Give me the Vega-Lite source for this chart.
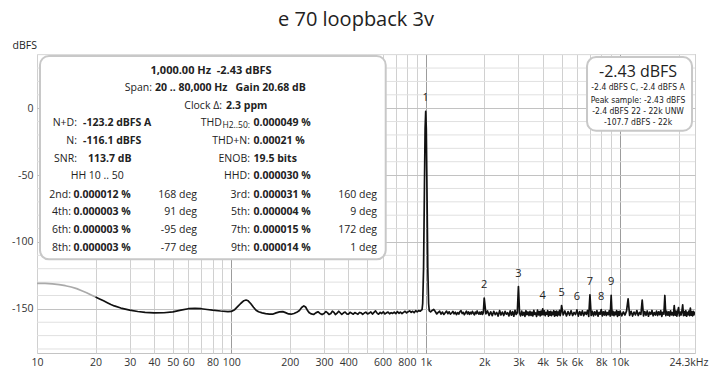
{
 "$schema": "https://vega.github.io/schema/vega-lite/v6.json",
 "width": 658, "height": 299,
 "autosize": {"type": "none"},
 "padding": {"left": 37, "top": 54, "right": 17, "bottom": 23},
 "background": "white",
 "title": {"text": "e 70 loopback 3v", "fontSize": 20, "font": "Open Sans", "fontWeight": "normal", "color": "#222222", "anchor": "middle", "frame": "group", "dx": -10, "offset": 10},
 "config": {"view": {"stroke": "#c4c4c4"}, "font": "Open Sans"},
 "datasets": {
  "ygrid": [{"g":-180},{"g":-170},{"g":-160},{"g":-140},{"g":-130},{"g":-120},{"g":-110},{"g":-90},{"g":-80},{"g":-70},{"g":-60},{"g":-40},{"g":-30},{"g":-20},{"g":-10},{"g":10},{"g":20},{"g":30},{"g":40}],
  "spec": [
   {"f":10,"db":-131,"s":"g"},{"f":11,"db":-131,"s":"g"},{"f":12,"db":-131.3,"s":"g"},{"f":13,"db":-131.9,"s":"g"},{"f":14,"db":-132.7,"s":"g"},{"f":15,"db":-133.7,"s":"g"},{"f":16,"db":-134.9,"s":"g"},{"f":17,"db":-136.5,"s":"g"},{"f":18,"db":-138,"s":"g"},{"f":19,"db":-139.6,"s":"g"},{"f":20,"db":-141.1,"s":"g"},
   {"f":20,"db":-141.1,"s":"b"},{"f":21,"db":-142.6,"s":"b"},{"f":22,"db":-144,"s":"b"},{"f":23,"db":-145.4,"s":"b"},{"f":24,"db":-146.7,"s":"b"},{"f":25,"db":-147.8,"s":"b"},{"f":27,"db":-149.4,"s":"b"},{"f":30,"db":-151,"s":"b"},{"f":33,"db":-152,"s":"b"},{"f":36,"db":-152.6,"s":"b"},{"f":40,"db":-153,"s":"b"},{"f":45,"db":-152.9,"s":"b"},{"f":50,"db":-152.2,"s":"b"},{"f":55,"db":-151,"s":"b"},{"f":60,"db":-149.9,"s":"b"},{"f":65,"db":-149.6,"s":"b"},{"f":70,"db":-149.9,"s":"b"},{"f":75,"db":-150.5,"s":"b"},{"f":80,"db":-151,"s":"b"},{"f":88,"db":-151.6,"s":"b"},{"f":96,"db":-152,"s":"b"},{"f":100,"db":-151.9,"s":"b"},{"f":104,"db":-150.6,"s":"b"},{"f":108,"db":-148.2,"s":"b"},{"f":112,"db":-145.8,"s":"b"},{"f":116,"db":-143.9,"s":"b"},{"f":119,"db":-143.4,"s":"b"},{"f":122,"db":-144,"s":"b"},{"f":126,"db":-146.2,"s":"b"},{"f":130,"db":-148.8,"s":"b"},{"f":134,"db":-151,"s":"b"},{"f":138,"db":-152.2,"s":"b"},{"f":144,"db":-153,"s":"b"},{"f":150,"db":-153.6,"s":"b"},{"f":157,"db":-154,"s":"b"},{"f":163,"db":-154,"s":"b"},{"f":170,"db":-153,"s":"b"},{"f":177,"db":-152.3,"s":"b"},{"f":184,"db":-152.1,"s":"b"},{"f":190,"db":-152.8,"s":"b"},{"f":197,"db":-153.8,"s":"b"},{"f":203,"db":-154,"s":"b"},{"f":210,"db":-153.5,"s":"b"},{"f":217,"db":-152.6,"s":"b"},{"f":224,"db":-151.2,"s":"b"},{"f":230,"db":-149,"s":"b"},{"f":236,"db":-147.8,"s":"b"},{"f":241,"db":-148.6,"s":"b"},{"f":246,"db":-151,"s":"b"},{"f":252,"db":-153,"s":"b"},{"f":258,"db":-153.8,"s":"b"},{"f":265,"db":-154.2,"s":"b"},{"f":272,"db":-153,"s":"b"},{"f":279,"db":-152.2,"s":"b"},{"f":286,"db":-153.4,"s":"b"},{"f":293,"db":-154.3,"s":"b"},{"f":300,"db":-153.5,"s":"b"},{"f":306,"db":-152,"s":"b"},{"f":312,"db":-152.8,"s":"b"},{"f":318,"db":-154.2,"s":"b"},{"f":325,"db":-153.5,"s":"b"},{"f":331,"db":-151.7,"s":"b"},{"f":337,"db":-152.6,"s":"b"},{"f":343,"db":-154.3,"s":"b"},{"f":350,"db":-153.2,"s":"b"},{"f":357,"db":-151.8,"s":"b"},{"f":363,"db":-152.9,"s":"b"},{"f":370,"db":-154.2,"s":"b"},{"f":378,"db":-153,"s":"b"},{"f":385,"db":-152.4,"s":"b"},{"f":392,"db":-153.7,"s":"b"},{"f":400,"db":-154,"s":"b"},{"f":408,"db":-152.6,"s":"b"},{"f":416,"db":-153.3,"s":"b"},{"f":424,"db":-154,"s":"b"},{"f":432,"db":-152.8,"s":"b"},{"f":440,"db":-153.4,"s":"b"},{"f":448,"db":-154.1,"s":"b"},{"f":456,"db":-152.7,"s":"b"},{"f":465,"db":-153,"s":"b"},{"f":474,"db":-154.2,"s":"b"},{"f":483,"db":-153.1,"s":"b"},{"f":492,"db":-152.5,"s":"b"},{"f":502,"db":-153.8,"s":"b"},{"f":512,"db":-153.2,"s":"b"},{"f":522,"db":-152.3,"s":"b"},{"f":532,"db":-153.9,"s":"b"},{"f":542,"db":-152.7,"s":"b"},{"f":552,"db":-151.5,"s":"b"},{"f":562,"db":-153.2,"s":"b"},{"f":572,"db":-154,"s":"b"},{"f":583,"db":-152.6,"s":"b"},{"f":594,"db":-153.5,"s":"b"},{"f":605,"db":-152.2,"s":"b"},{"f":616,"db":-153.8,"s":"b"},{"f":628,"db":-153,"s":"b"},{"f":640,"db":-152.4,"s":"b"},{"f":652,"db":-153.7,"s":"b"},{"f":664,"db":-152.9,"s":"b"},{"f":676,"db":-153.4,"s":"b"},{"f":689,"db":-152.5,"s":"b"},{"f":702,"db":-153.6,"s":"b"},{"f":715,"db":-152,"s":"b"},{"f":728,"db":-153.3,"s":"b"},{"f":741,"db":-152.4,"s":"b"},{"f":755,"db":-153.5,"s":"b"},{"f":769,"db":-152.6,"s":"b"},{"f":783,"db":-151.8,"s":"b"},{"f":797,"db":-153,"s":"b"},{"f":812,"db":-152.2,"s":"b"},{"f":827,"db":-151.5,"s":"b"},{"f":842,"db":-152.6,"s":"b"},{"f":857,"db":-151.8,"s":"b"},{"f":872,"db":-152.9,"s":"b"},{"f":888,"db":-151.4,"s":"b"},{"f":904,"db":-152.2,"s":"b"},{"f":920,"db":-151.3,"s":"b"},{"f":936,"db":-151.8,"s":"b"},{"f":950,"db":-151,"s":"b"},{"f":958,"db":-150.5,"s":"b"},{"f":965,"db":-146,"s":"b"},{"f":975,"db":-120,"s":"b"},{"f":985,"db":-60,"s":"b"},{"f":993,"db":-15,"s":"b"},{"f":1000,"db":-2.43,"s":"b"},{"f":1007,"db":-15,"s":"b"},{"f":1015,"db":-60,"s":"b"},{"f":1025,"db":-120,"s":"b"},{"f":1035,"db":-146,"s":"b"},{"f":1043,"db":-151.5,"s":"b"},
   {"f":1060,"db":-152.3,"s":"b"},{"f":1080,"db":-151.2,"s":"b"},{"f":1100,"db":-150.4,"s":"b"},{"f":1120,"db":-152,"s":"b"},{"f":1140,"db":-153.8,"s":"b"},{"f":1160,"db":-152.6,"s":"b"},{"f":1180,"db":-151.8,"s":"b"},{"f":1200,"db":-153.9,"s":"b"},{"f":1220,"db":-152.4,"s":"b"},{"f":1240,"db":-154.2,"s":"b"},{"f":1260,"db":-152.9,"s":"b"},{"f":1280,"db":-151.7,"s":"b"},{"f":1300,"db":-153.6,"s":"b"},{"f":1320,"db":-152.2,"s":"b"},{"f":1340,"db":-154,"s":"b"},{"f":1360,"db":-153.1,"s":"b"},{"f":1380,"db":-151.9,"s":"b"},{"f":1400,"db":-153.7,"s":"b"},{"f":1420,"db":-152.5,"s":"b"},{"f":1440,"db":-154.3,"s":"b"},{"f":1460,"db":-152.8,"s":"b"},{"f":1480,"db":-153.9,"s":"b"},{"f":1500,"db":-152.1,"s":"b"},{"f":1520,"db":-151.4,"s":"b"},{"f":1540,"db":-153.5,"s":"b"},{"f":1560,"db":-152.7,"s":"b"},{"f":1580,"db":-154.4,"s":"b"},{"f":1600,"db":-153,"s":"b"},{"f":1620,"db":-151.8,"s":"b"},{"f":1640,"db":-153.8,"s":"b"},{"f":1660,"db":-152.3,"s":"b"},{"f":1680,"db":-154.1,"s":"b"},{"f":1700,"db":-152.6,"s":"b"},{"f":1720,"db":-153.7,"s":"b"},{"f":1740,"db":-151.9,"s":"b"},{"f":1760,"db":-153.3,"s":"b"},{"f":1780,"db":-154.5,"s":"b"},{"f":1800,"db":-152.4,"s":"b"},{"f":1820,"db":-153.6,"s":"b"},{"f":1840,"db":-151.6,"s":"b"},{"f":1860,"db":-153.2,"s":"b"},{"f":1880,"db":-154,"s":"b"},{"f":1900,"db":-152.5,"s":"b"},{"f":1920,"db":-153.9,"s":"b"},{"f":1940,"db":-152.2,"s":"b"},{"f":1960,"db":-154.2,"s":"b"},{"f":1980,"db":-152.8,"s":"b"},
   {"f":2000,"db":-142,"s":"b"},{"f":2040,"db":-153.8,"s":"b"},{"f":2080,"db":-151.6,"s":"b"},{"f":2120,"db":-154.9,"s":"b"},{"f":2160,"db":-152.2,"s":"b"},{"f":2200,"db":-155.1,"s":"b"},{"f":2240,"db":-151.8,"s":"b"},{"f":2280,"db":-154.3,"s":"b"},{"f":2320,"db":-152.7,"s":"b"},{"f":2360,"db":-155.4,"s":"b"},{"f":2400,"db":-151.3,"s":"b"},{"f":2440,"db":-154.6,"s":"b"},{"f":2480,"db":-152.4,"s":"b"},{"f":2520,"db":-155,"s":"b"},{"f":2560,"db":-151.9,"s":"b"},{"f":2600,"db":-154,"s":"b"},{"f":2640,"db":-152.9,"s":"b"},{"f":2680,"db":-155.3,"s":"b"},{"f":2720,"db":-151.5,"s":"b"},{"f":2760,"db":-154.7,"s":"b"},{"f":2800,"db":-152.1,"s":"b"},{"f":2840,"db":-155.5,"s":"b"},{"f":2880,"db":-151.1,"s":"b"},{"f":2920,"db":-154.2,"s":"b"},{"f":2960,"db":-153,"s":"b"},{"f":3000,"db":-133.3,"s":"b"},{"f":3040,"db":-153.2,"s":"b"},{"f":3080,"db":-155.2,"s":"b"},{"f":3120,"db":-151.7,"s":"b"},{"f":3160,"db":-154.8,"s":"b"},{"f":3200,"db":-152.6,"s":"b"},{"f":3240,"db":-155.6,"s":"b"},{"f":3280,"db":-151.4,"s":"b"},{"f":3320,"db":-154.4,"s":"b"},{"f":3360,"db":-152.3,"s":"b"},{"f":3400,"db":-155,"s":"b"},{"f":3440,"db":-151.9,"s":"b"},{"f":3480,"db":-154.9,"s":"b"},{"f":3520,"db":-152.5,"s":"b"},{"f":3560,"db":-155.3,"s":"b"},{"f":3600,"db":-151.2,"s":"b"},{"f":3640,"db":-154.1,"s":"b"},{"f":3680,"db":-153.1,"s":"b"},{"f":3720,"db":-155.7,"s":"b"},{"f":3760,"db":-150.9,"s":"b"},{"f":3800,"db":-154.5,"s":"b"},{"f":3840,"db":-152,"s":"b"},{"f":3880,"db":-155.2,"s":"b"},{"f":3920,"db":-151.6,"s":"b"},{"f":3960,"db":-154.6,"s":"b"},{"f":4000,"db":-150,"s":"b"},{"f":4040,"db":-154.3,"s":"b"},{"f":4080,"db":-151.5,"s":"b"},{"f":4120,"db":-155.1,"s":"b"},{"f":4160,"db":-152.8,"s":"b"},{"f":4200,"db":-154,"s":"b"},{"f":4240,"db":-151.3,"s":"b"},{"f":4280,"db":-155.4,"s":"b"},{"f":4320,"db":-152.2,"s":"b"},{"f":4360,"db":-154.7,"s":"b"},{"f":4400,"db":-151.8,"s":"b"},{"f":4440,"db":-155,"s":"b"},{"f":4480,"db":-152.6,"s":"b"},{"f":4520,"db":-154.2,"s":"b"},{"f":4560,"db":-151.4,"s":"b"},{"f":4600,"db":-155.5,"s":"b"},{"f":4640,"db":-152,"s":"b"},{"f":4680,"db":-154.8,"s":"b"},{"f":4720,"db":-151.7,"s":"b"},{"f":4760,"db":-155.2,"s":"b"},{"f":4800,"db":-152.4,"s":"b"},{"f":4840,"db":-154.4,"s":"b"},{"f":4880,"db":-151.2,"s":"b"},{"f":4920,"db":-155,"s":"b"},{"f":4960,"db":-152.9,"s":"b"},
   {"f":5000,"db":-147.5,"s":"b"},{"f":5100,"db":-154.6,"s":"b"},{"f":5200,"db":-151.6,"s":"b"},{"f":5300,"db":-155.3,"s":"b"},{"f":5400,"db":-152.1,"s":"b"},{"f":5500,"db":-154.8,"s":"b"},{"f":5600,"db":-151.4,"s":"b"},{"f":5700,"db":-155,"s":"b"},{"f":5800,"db":-152.7,"s":"b"},{"f":5900,"db":-154.3,"s":"b"},{"f":6000,"db":-150.8,"s":"b"},{"f":6100,"db":-155.4,"s":"b"},{"f":6200,"db":-152,"s":"b"},{"f":6300,"db":-154.7,"s":"b"},{"f":6400,"db":-151.5,"s":"b"},{"f":6500,"db":-155.1,"s":"b"},{"f":6600,"db":-152.4,"s":"b"},{"f":6700,"db":-154.2,"s":"b"},{"f":6800,"db":-151.2,"s":"b"},{"f":6900,"db":-155.6,"s":"b"},{"f":7000,"db":-139.5,"s":"b"},{"f":7100,"db":-154.9,"s":"b"},{"f":7200,"db":-151.8,"s":"b"},{"f":7300,"db":-155.2,"s":"b"},{"f":7400,"db":-152.3,"s":"b"},{"f":7500,"db":-154.5,"s":"b"},{"f":7600,"db":-151.3,"s":"b"},{"f":7700,"db":-155.5,"s":"b"},{"f":7800,"db":-152.6,"s":"b"},{"f":7900,"db":-154,"s":"b"},{"f":8000,"db":-150.5,"s":"b"},{"f":8100,"db":-155.3,"s":"b"},{"f":8200,"db":-152.2,"s":"b"},{"f":8300,"db":-154.6,"s":"b"},{"f":8400,"db":-151.6,"s":"b"},{"f":8500,"db":-155,"s":"b"},{"f":8600,"db":-152.8,"s":"b"},{"f":8700,"db":-154.4,"s":"b"},{"f":8800,"db":-151.4,"s":"b"},{"f":8900,"db":-155.4,"s":"b"},{"f":9000,"db":-140,"s":"b"},{"f":9100,"db":-154.7,"s":"b"},{"f":9200,"db":-151.9,"s":"b"},{"f":9300,"db":-155.1,"s":"b"},{"f":9400,"db":-152.5,"s":"b"},{"f":9500,"db":-154.3,"s":"b"},{"f":9600,"db":-151.3,"s":"b"},{"f":9700,"db":-155.6,"s":"b"},{"f":9800,"db":-152,"s":"b"},{"f":9900,"db":-154.8,"s":"b"},
   {"f":10000,"db":-151.7,"s":"b"},{"f":10200,"db":-155.2,"s":"b"},{"f":10400,"db":-152.3,"s":"b"},{"f":10600,"db":-154.6,"s":"b"},{"f":10800,"db":-151.5,"s":"b"},{"f":11000,"db":-142.5,"s":"b"},{"f":11200,"db":-154.9,"s":"b"},{"f":11400,"db":-151.8,"s":"b"},{"f":11600,"db":-155.4,"s":"b"},{"f":11800,"db":-152.4,"s":"b"},{"f":12000,"db":-154.5,"s":"b"},{"f":12200,"db":-151.3,"s":"b"},{"f":12400,"db":-155,"s":"b"},{"f":12600,"db":-152.7,"s":"b"},{"f":12800,"db":-154.2,"s":"b"},{"f":13000,"db":-143.5,"s":"b"},{"f":13200,"db":-155.3,"s":"b"},{"f":13400,"db":-152,"s":"b"},{"f":13600,"db":-154.8,"s":"b"},{"f":13800,"db":-151.6,"s":"b"},{"f":14000,"db":-155.5,"s":"b"},{"f":14200,"db":-152.5,"s":"b"},{"f":14400,"db":-154.1,"s":"b"},{"f":14600,"db":-151.2,"s":"b"},{"f":14800,"db":-155.2,"s":"b"},{"f":15000,"db":-152.8,"s":"b"},{"f":15200,"db":-154.6,"s":"b"},{"f":15400,"db":-151.7,"s":"b"},{"f":15600,"db":-155,"s":"b"},{"f":15800,"db":-152.2,"s":"b"},{"f":16000,"db":-154.4,"s":"b"},{"f":16200,"db":-151.4,"s":"b"},{"f":16400,"db":-155.6,"s":"b"},{"f":16600,"db":-152.6,"s":"b"},{"f":16800,"db":-154,"s":"b"},{"f":17000,"db":-140,"s":"b"},{"f":17200,"db":-155.1,"s":"b"},{"f":17400,"db":-151.9,"s":"b"},{"f":17600,"db":-154.7,"s":"b"},{"f":17800,"db":-152.3,"s":"b"},{"f":18000,"db":-155.3,"s":"b"},{"f":18200,"db":-151.5,"s":"b"},{"f":18400,"db":-154.5,"s":"b"},{"f":18600,"db":-152.9,"s":"b"},{"f":18800,"db":-155,"s":"b"},{"f":19000,"db":-147.5,"s":"b"},{"f":19200,"db":-154.8,"s":"b"},{"f":19400,"db":-151.6,"s":"b"},{"f":19600,"db":-155.4,"s":"b"},{"f":19800,"db":-152.1,"s":"b"},{"f":20000,"db":-149,"s":"b"},{"f":20200,"db":-155.2,"s":"b"},{"f":20400,"db":-152.4,"s":"b"},{"f":20600,"db":-154.6,"s":"b"},{"f":20800,"db":-151.8,"s":"b"},{"f":21000,"db":-147,"s":"b"},{"f":21200,"db":-155.1,"s":"b"},{"f":21400,"db":-152,"s":"b"},{"f":21600,"db":-154.9,"s":"b"},{"f":21800,"db":-151.4,"s":"b"},{"f":22000,"db":-155.5,"s":"b"},{"f":22200,"db":-152.7,"s":"b"},{"f":22400,"db":-154.3,"s":"b"},{"f":22600,"db":-151.6,"s":"b"},{"f":22800,"db":-155,"s":"b"},{"f":23000,"db":-149.5,"s":"b"},{"f":23200,"db":-154.7,"s":"b"},{"f":23400,"db":-152.2,"s":"b"},{"f":23600,"db":-155.3,"s":"b"},{"f":23800,"db":-151.9,"s":"b"},{"f":24000,"db":-154.5,"s":"b"},{"f":24200,"db":-152.6,"s":"b"},{"f":24300,"db":-153.8,"s":"b"}
  ],
  "harm": [
   {"n":"1","f":1000,"db":-2.43},{"n":"2","f":2000,"db":-142},{"n":"3","f":3000,"db":-133.3},{"n":"4","f":4000,"db":-150},{"n":"5","f":5000,"db":-147.5},{"n":"6","f":6000,"db":-150.8},{"n":"7","f":7000,"db":-139.5},{"n":"8","f":8000,"db":-150.5},{"n":"9","f":9000,"db":-140}
  ],
  "box": [
   {"role":"head","t":"1,000.00 Hz\u00a0\u00a0-2.43 dBFS","f":78.6,"db":28.0},
   {"role":"lab","t":"Span:","f":39.05,"db":15.35},
   {"role":"val","t":"20 .. 80,000 Hz\u00a0\u00a0 Gain 20.68 dB","f":40.48,"db":15.35},
   {"role":"lab","t":"Clock Δ:","f":89.5,"db":1.94},
   {"role":"val","t":"2.3 ppm","f":93.9,"db":1.94},
   {"role":"lab","t":"N+D:","f":16.06,"db":-11.18},
   {"role":"val","t":"-123.2 dBFS A","f":17.25,"db":-11.18},
   {"role":"lab","t":"THD","f":89.5,"db":-11.18},
   {"role":"sub","t":"H2..50:","f":124.7,"db":-11.18},
   {"role":"val","t":"0.000049 %","f":130.0,"db":-11.18},
   {"role":"lab","t":"N:","f":16.06,"db":-24.37},
   {"role":"val","t":"-116.1 dBFS","f":17.25,"db":-24.37},
   {"role":"lab","t":"THD+N:","f":124.7,"db":-24.37},
   {"role":"val","t":"0.00021 %","f":130.0,"db":-24.37},
   {"role":"lab","t":"SNR:","f":16.06,"db":-37.78},
   {"role":"val","t":"113.7 dB","f":18.3,"db":-37.78},
   {"role":"lab","t":"ENOB:","f":124.7,"db":-37.78},
   {"role":"val","t":"19.5 bits","f":130.0,"db":-37.78},
   {"role":"note","t":"HH 10 .. 50","f":14.9,"db":-50.97},
   {"role":"lab","t":"HHD:","f":124.7,"db":-50.97},
   {"role":"val","t":"0.000030 %","f":130.0,"db":-50.97},
   {"role":"lab","t":"2nd:","f":14.96,"db":-64.6},
   {"role":"val","t":"0.000012 %","f":15.41,"db":-64.6},
   {"role":"lab","t":"168 deg","f":66.57,"db":-64.6},
   {"role":"lab","t":"3rd:","f":124.7,"db":-64.6},
   {"role":"val","t":"0.000031 %","f":130.0,"db":-64.6},
   {"role":"lab","t":"160 deg","f":561.6,"db":-64.6},
   {"role":"lab","t":"4th:","f":14.96,"db":-77.8},
   {"role":"val","t":"0.000003 %","f":15.41,"db":-77.8},
   {"role":"lab","t":"91 deg","f":66.57,"db":-77.8},
   {"role":"lab","t":"5th:","f":124.7,"db":-77.8},
   {"role":"val","t":"0.000004 %","f":130.0,"db":-77.8},
   {"role":"lab","t":"9 deg","f":561.6,"db":-77.8},
   {"role":"lab","t":"6th:","f":14.96,"db":-91.2},
   {"role":"val","t":"0.000003 %","f":15.41,"db":-91.2},
   {"role":"lab","t":"-95 deg","f":66.57,"db":-91.2},
   {"role":"lab","t":"7th:","f":124.7,"db":-91.2},
   {"role":"val","t":"0.000015 %","f":130.0,"db":-91.2},
   {"role":"lab","t":"172 deg","f":561.6,"db":-91.2},
   {"role":"lab","t":"8th:","f":14.96,"db":-104.3},
   {"role":"val","t":"0.000003 %","f":15.41,"db":-104.3},
   {"role":"lab","t":"-77 deg","f":66.57,"db":-104.3},
   {"role":"lab","t":"9th:","f":124.7,"db":-104.3},
   {"role":"val","t":"0.000014 %","f":130.0,"db":-104.3},
   {"role":"lab","t":"1 deg","f":561.6,"db":-104.3},
   {"role":"big","t":"-2.43 dBFS","f":12374,"db":27.05},
   {"role":"small","t":"-2.4 dBFS C, -2.4 dBFS A","f":12374,"db":15.87},
   {"role":"small","t":"Peak sample: -2.43 dBFS","f":12374,"db":6.18},
   {"role":"small","t":"-2.4 dBFS 22 - 22k UNW","f":12374,"db":-2.38},
   {"role":"small","t":"-107.7 dBFS - 22k","f":12374,"db":-10.58}
  ]
 },
 "layer": [
  {
   "data": {"name": "ygrid"},
   "mark": {"type": "rule", "color": "#e0e0e0", "strokeWidth": 1},
   "encoding": {
    "y": {"field": "g", "type": "quantitative", "scale": {"domain": [-183, 40.5], "nice": false, "zero": false},
     "axis": {"values": [-150,-100,-50,0], "labelExpr": "'' + datum.value", "labelOverlap": false,
      "title": "dBFS", "titleAngle": 0, "titleX": -25, "titleY": -9, "titleAlign": "left", "titleBaseline": "middle",
      "titleFont": "Open Sans", "titleFontSize": 10.5, "titleFontWeight": "normal", "titleColor": "#222222",
      "ticks": false, "domain": false, "grid": true, "gridColor": "#c2c2c2",
      "labelFont": "Open Sans", "labelFontSize": 10.5, "labelColor": "#333333", "labelPadding": 4}}
   }
  },
  {
   "data": {"name": "spec"},
   "mark": {"type": "line", "clip": true, "strokeWidth": 1.7, "strokeJoin": "round"},
   "encoding": {
    "x": {"field": "f", "type": "quantitative",
     "scale": {"type": "log", "domain": [10, 24300], "nice": false},
     "axis": {
      "values": [10,20,30,40,50,60,70,80,90,100,200,300,400,500,600,700,800,900,1000,2000,3000,4000,5000,6000,7000,8000,9000,10000,20000,24300],
      "labelExpr": "indexof([70,90,500,700,900,7000,9000,20000], datum.value) >= 0 ? '' : (datum.value == 24300 ? '24.3kHz' : (datum.value >= 1000 ? (datum.value/1000) + 'k' : '' + datum.value))",
      "title": null, "ticks": false, "domain": false, "grid": true,
      "gridColor": {"condition": {"test": "datum.value == 100 || datum.value == 1000 || datum.value == 10000", "value": "#9c9c9c"}, "value": "#d0d0d0"},
      "gridWidth": 1,
      "labelFont": "Open Sans", "labelFontSize": 10.5, "labelColor": "#333333", "labelPadding": 4,
      "labelFlush": false, "labelOverlap": false,
      "labelAlign": {"condition": {"test": "datum.value == 24300", "value": "right"}, "value": "center"},
      "labelOffset": {"condition": {"test": "datum.value == 24300", "value": 13}, "value": 0}
     }},
    "y": {"field": "db", "type": "quantitative"},
    "color": {"field": "s", "type": "nominal", "scale": {"domain": ["g", "b"], "range": ["#aaaaaa", "#111111"]}, "legend": null}
   }
  },
  {
   "data": {"name": "harm"},
   "mark": {"type": "text", "dy": -13, "fontSize": 11, "font": "Open Sans", "color": "#222222", "baseline": "middle"},
   "encoding": {"x": {"field": "f", "type": "quantitative"}, "y": {"field": "db", "type": "quantitative"}, "text": {"field": "n"}}
  },
  {
   "data": {"values": [{}]},
   "mark": {"type": "rect", "fill": "white", "stroke": "#c8c8c8", "strokeWidth": 2, "cornerRadius": 9},
   "encoding": {"x": {"datum": 10.36, "type": "quantitative"}, "x2": {"datum": 622.6}, "y": {"datum": 39, "type": "quantitative"}, "y2": {"datum": -113}}
  },
  {
   "data": {"values": [{}]},
   "mark": {"type": "rect", "fill": "white", "stroke": "#c8c8c8", "strokeWidth": 2, "cornerRadius": 9},
   "encoding": {"x": {"datum": 6761, "type": "quantitative"}, "x2": {"datum": 23460}, "y": {"datum": 38.2, "type": "quantitative"}, "y2": {"datum": -16.9}}
  },
  {
   "data": {"name": "box"},
   "transform": [{"filter": "datum.role == 'head'"}],
   "mark": {"type": "text", "fontSize": 11, "fontWeight": "bold", "font": "Open Sans", "color": "#222222", "align": "center", "baseline": "middle"},
   "encoding": {"x": {"field": "f", "type": "quantitative"}, "y": {"field": "db", "type": "quantitative"}, "text": {"field": "t"}}
  },
  {
   "data": {"name": "box"},
   "transform": [{"filter": "datum.role == 'lab'"}],
   "mark": {"type": "text", "fontSize": 10.5, "font": "Open Sans", "color": "#222222", "align": "right", "baseline": "middle"},
   "encoding": {"x": {"field": "f", "type": "quantitative"}, "y": {"field": "db", "type": "quantitative"}, "text": {"field": "t"}}
  },
  {
   "data": {"name": "box"},
   "transform": [{"filter": "datum.role == 'sub'"}],
   "mark": {"type": "text", "fontSize": 8.5, "font": "Open Sans", "color": "#222222", "align": "right", "baseline": "middle", "dy": 2},
   "encoding": {"x": {"field": "f", "type": "quantitative"}, "y": {"field": "db", "type": "quantitative"}, "text": {"field": "t"}}
  },
  {
   "data": {"name": "box"},
   "transform": [{"filter": "datum.role == 'note'"}],
   "mark": {"type": "text", "fontSize": 10.5, "font": "Open Sans", "color": "#222222", "align": "left", "baseline": "middle"},
   "encoding": {"x": {"field": "f", "type": "quantitative"}, "y": {"field": "db", "type": "quantitative"}, "text": {"field": "t"}}
  },
  {
   "data": {"name": "box"},
   "transform": [{"filter": "datum.role == 'val'"}],
   "mark": {"type": "text", "fontSize": 10.5, "fontWeight": "bold", "font": "Open Sans", "color": "#222222", "align": "left", "baseline": "middle"},
   "encoding": {"x": {"field": "f", "type": "quantitative"}, "y": {"field": "db", "type": "quantitative"}, "text": {"field": "t"}}
  },
  {
   "data": {"name": "box"},
   "transform": [{"filter": "datum.role == 'big'"}],
   "mark": {"type": "text", "fontSize": 16, "font": "Open Sans", "color": "#222222", "align": "center", "baseline": "middle"},
   "encoding": {"x": {"field": "f", "type": "quantitative"}, "y": {"field": "db", "type": "quantitative"}, "text": {"field": "t"}}
  },
  {
   "data": {"name": "box"},
   "transform": [{"filter": "datum.role == 'small'"}],
   "mark": {"type": "text", "fontSize": 8.5, "font": "Liberation Sans Narrow, DejaVu Sans Condensed, Open Sans", "color": "#222222", "align": "center", "baseline": "middle"},
   "encoding": {"x": {"field": "f", "type": "quantitative"}, "y": {"field": "db", "type": "quantitative"}, "text": {"field": "t"}}
  }
 ]
}
